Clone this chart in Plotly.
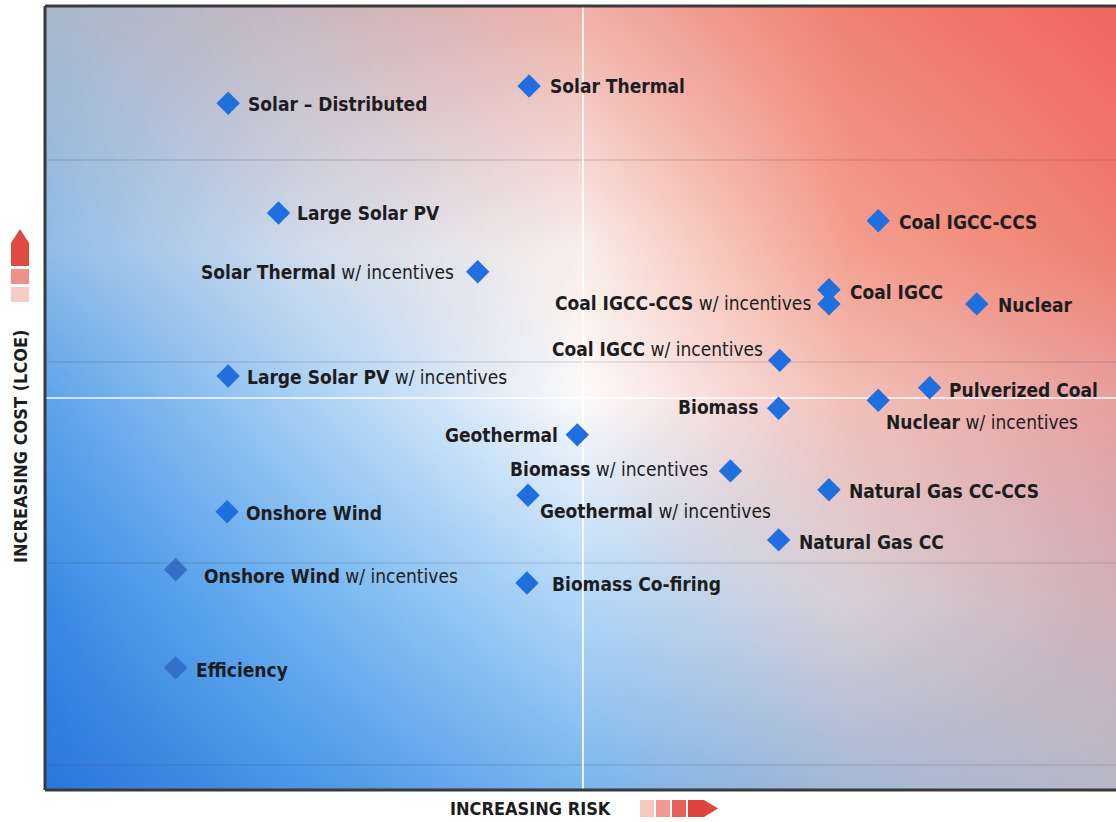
import base64
import struct
import zlib

import numpy as np
import plotly.graph_objects as go

# ---- data: technologies placed by relative risk (x) and cost / LCOE (y) ----
technologies = [
    "Solar – Distributed",
    "Solar Thermal",
    "Large Solar PV",
    "Solar Thermal w/ incentives",
    "Coal IGCC-CCS",
    "Coal IGCC",
    "Coal IGCC-CCS w/ incentives",
    "Nuclear",
    "Coal IGCC w/ incentives",
    "Large Solar PV w/ incentives",
    "Pulverized Coal",
    "Nuclear w/ incentives",
    "Biomass",
    "Geothermal",
    "Biomass w/ incentives",
    "Natural Gas CC-CCS",
    "Geothermal w/ incentives",
    "Onshore Wind",
    "Natural Gas CC",
    "Onshore Wind w/ incentives",
    "Biomass Co-firing",
    "Efficiency",
]
risk = [17.1, 45.2, 21.8, 40.4, 77.8, 73.2, 73.2, 87.0, 68.6, 17.1, 82.6,
        77.8, 68.5, 49.7, 64.0, 73.2, 45.1, 17.0, 68.5, 12.2, 45.0, 12.2]
cost = [87.6, 89.8, 73.6, 66.1, 72.6, 63.8, 62.0, 62.0, 54.8, 52.8, 51.3,
        49.7, 48.7, 45.3, 40.7, 38.3, 37.6, 35.5, 31.9, 28.1, 26.4, 15.6]

# label placement per technology: (side, gap from marker centre px, y offset px)
label_place = [
    ("right", 21, -1), ("right", 22, 0), ("right", 20, 0), ("left", 25, 0),
    ("right", 22, -1), ("right", 22, -2), ("left", 19, 1), ("right", 22, -1),
    ("left", 18, 11), ("right", 20, -1), ("right", 20, -2), ("right", 9, -22),
    ("left", 22, 1), ("left", 20, 0), ("left", 23, 2), ("right", 21, -1),
    ("right", 13, -16), ("right", 20, -1), ("right", 21, -2), ("right", 29, -6),
    ("right", 26, -1), ("right", 21, -2),
]
MARKER = "#1f6fde"
MARKER_FADED = "#2a60bc"
marker_colors = [MARKER] * 19 + [MARKER_FADED, MARKER, MARKER_FADED]
marker_alpha = [1.0] * 19 + [0.8, 1.0, 0.7]

FONT = "Liberation Sans Narrow, DejaVu Sans Condensed, Arial Narrow, sans-serif"
INK = "#1d1d1f"
TEXT_PAD = 3  # annotation box padding around the text

# ---- background colour field (blue low-left, white centre, red top-right) ----
grid_x = [0.0, 0.238, 0.502, 0.751, 1.0]
grid_y = [0.0, 0.242, 0.5, 0.689, 1.0]
grid_colors = [  # rows bottom -> top, columns left -> right
    ["#2a78dc", "#4a96e8", "#7ab6ee", "#a6b8d4", "#b8b8c8"],
    ["#3a8ae6", "#70b4f0", "#b2d8f8", "#d8d0d8", "#d0b0b8"],
    ["#5ea4ea", "#a8d0f4", "#fdfbfb", "#f2c0b8", "#e8a0a0"],
    ["#90bde8", "#d0dcec", "#faeeea", "#f4a090", "#f08070"],
    ["#a9b8cc", "#c8b8c0", "#f0b0a8", "#f08070", "#f0675f"],
]


def hex_rgb(h):
    h = h.lstrip("#")
    return [int(h[i:i + 2], 16) for i in (0, 2, 4)]


ctrl = np.array([[hex_rgb(c) for c in row] for row in grid_colors], float)
NX, NY = 268, 196
xs = (np.arange(NX) + 0.5) / NX
ys = (np.arange(NY) + 0.5) / NY
along_x = np.empty((len(grid_y), NX, 3))
for r in range(len(grid_y)):
    for ch in range(3):
        along_x[r, :, ch] = np.interp(xs, grid_x, ctrl[r, :, ch])
field = np.empty((NY, NX, 3))
for c in range(NX):
    for ch in range(3):
        field[:, c, ch] = np.interp(ys, grid_y, along_x[:, c, ch])
field = np.clip(field, 0, 255).astype(np.uint8)[::-1]  # top row first


def png_data_uri(rgb):
    """Encode an (h, w, 3) uint8 array as a PNG data URI."""
    h, w, _ = rgb.shape
    raw = b"".join(b"\x00" + rgb[i].tobytes() for i in range(h))

    def chunk(tag, data):
        body = tag + data
        return struct.pack(">I", len(data)) + body + struct.pack(">I", zlib.crc32(body) & 0xFFFFFFFF)

    png = (b"\x89PNG\r\n\x1a\n"
           + chunk(b"IHDR", struct.pack(">IIBBBBB", w, h, 8, 2, 0, 0, 0))
           + chunk(b"IDAT", zlib.compress(raw, 9))
           + chunk(b"IEND", b""))
    return "data:image/png;base64," + base64.b64encode(png).decode()


fig = go.Figure()
fig.add_trace(go.Scatter(
    x=risk, y=cost, mode="markers",
    marker=dict(symbol="diamond", size=18, color=marker_colors, opacity=marker_alpha,
                line=dict(width=0)),
    hoverinfo="text", text=technologies, showlegend=False,
))


def label_html(name):
    tail = " w/ incentives"
    if name.endswith(tail):
        return "<b>" + name[: -len(tail)] + "</b>" + tail
    return "<b>" + name + "</b>"


annotations = []
for name, x, y, (side, gap, dy) in zip(technologies, risk, cost, label_place):
    right = side == "right"
    annotations.append(dict(
        x=x, y=y, xref="x", yref="y", text=label_html(name), showarrow=False,
        xanchor="left" if right else "right", yanchor="middle",
        xshift=(gap - TEXT_PAD) if right else -(gap - TEXT_PAD), yshift=dy,
        font=dict(family=FONT, size=19, color=INK),
    ))

# plot-area geometry in pixels for axis decorations
L, R, T, B = 45, 1116, 6, 790


def fx(px):
    return (px - L) / (R - L)


def fy(py):
    return (B - py) / (B - T)


annotations.append(dict(
    x=fx(531), y=fy(808), xref="paper", yref="paper", showarrow=False,
    text="<b>INCREASING RISK</b>", xanchor="center", yanchor="middle",
    font=dict(family=FONT, size=18, color=INK),
))
annotations.append(dict(
    x=fx(20), y=fy(446), xref="paper", yref="paper", showarrow=False,
    text="<b>INCREASING COST (LCOE)</b>", textangle=-90,
    xanchor="center", yanchor="middle",
    font=dict(family=FONT, size=18, color=INK),
))

shapes = []
# faint horizontal grid
for gy in (80.36, 54.59, 28.95, 3.19):
    shapes.append(dict(type="line", xref="x", yref="y", x0=0, x1=100, y0=gy, y1=gy,
                       line=dict(color="rgba(70,70,100,0.16)", width=1.5), layer="between"))
# white quadrant cross
shapes.append(dict(type="line", xref="x", yref="y", x0=50.23, x1=50.23, y0=0, y1=100,
                   line=dict(color="rgba(255,255,255,0.85)", width=2), layer="between"))
shapes.append(dict(type="line", xref="x", yref="y", x0=0, x1=100, y0=50, y1=50,
                   line=dict(color="rgba(255,255,255,0.7)", width=2), layer="between"))
# frame
for x0, y0, x1, y1 in ((L, T, L, B), (L, T, R, T), (L, B, R, B)):
    shapes.append(dict(type="line", xref="paper", yref="paper",
                       x0=fx(x0), y0=fy(y0), x1=fx(x1), y1=fy(y1),
                       line=dict(color="#3a3a3c", width=3), layer="above"))


def path(points):
    return "M" + " L".join(f"{fx(a):.5f},{fy(b):.5f}" for a, b in points) + " Z"


# risk arrow (pointing right)
for (a, b), col in zip(((640, 654), (656, 670), (672, 686)),
                       ("#f6c8c0", "#f19a92", "#e8605a")):
    shapes.append(dict(type="path", xref="paper", yref="paper",
                       path=path([(a, 800), (b, 800), (b, 817), (a, 817)]),
                       fillcolor=col, line=dict(width=0)))
shapes.append(dict(type="path", xref="paper", yref="paper",
                   path=path([(688, 800), (704, 800), (718, 808.5), (704, 817), (688, 817)]),
                   fillcolor="#e0443e", line=dict(width=0)))
# cost arrow (pointing up)
for (a, b), col in zip(((287, 302), (269, 284)), ("#f6ccc4", "#f09088")):
    shapes.append(dict(type="path", xref="paper", yref="paper",
                       path=path([(11, a), (29, a), (29, b), (11, b)]),
                       fillcolor=col, line=dict(width=0)))
shapes.append(dict(type="path", xref="paper", yref="paper",
                   path=path([(11, 266), (11, 243), (20, 229), (29, 243), (29, 266)]),
                   fillcolor="#e04a44", line=dict(width=0)))

fig.update_layout(
    width=1116, height=822,
    margin=dict(l=L, r=1116 - R, t=T, b=822 - B),
    paper_bgcolor="white", plot_bgcolor="white",
    showlegend=False,
    xaxis=dict(range=[0, 100], showgrid=False, zeroline=False, showticklabels=False,
               ticks="", showline=False, fixedrange=True),
    yaxis=dict(range=[0, 100], showgrid=False, zeroline=False, showticklabels=False,
               ticks="", showline=False, fixedrange=True),
    images=[dict(source=png_data_uri(field), xref="x", yref="y", x=0, y=100,
                 sizex=100, sizey=100, sizing="stretch", xanchor="left",
                 yanchor="top", layer="below")],
    annotations=annotations,
    shapes=shapes,
)

fig.write_html("out.html")
